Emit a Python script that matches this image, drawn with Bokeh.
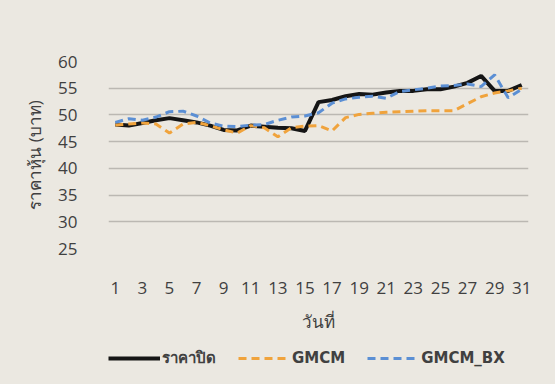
from bokeh.plotting import figure
from bokeh.layouts import column
from bokeh.models import Legend, LegendItem, Range1d, FixedTicker, ColumnDataSource
from bokeh.embed import file_html
from bokeh.resources import INLINE

days = list(range(1, 32))
close_price = [48.2, 48.0, 48.5, 49.0, 49.4, 49.0, 48.6, 48.0, 47.2, 47.1,
               48.0, 47.8, 47.6, 47.5, 47.0, 52.4, 52.8, 53.5, 53.9, 53.8,
               54.2, 54.5, 54.5, 54.8, 54.8, 55.3, 56.0, 57.3, 54.5, 54.5, 55.6]
gmcm = [48.1, 48.3, 48.5, 48.3, 46.6, 48.3, 48.6, 48.0, 47.2, 46.6,
        48.0, 47.6, 45.9, 47.6, 47.9, 48.0, 47.0, 49.5, 50.1, 50.3,
        50.5, 50.6, 50.7, 50.8, 50.8, 50.8, 52.1, 53.4, 54.1, 54.5, 55.0]
gmcm_bx = [48.6, 49.3, 49.0, 49.6, 50.6, 50.7, 49.8, 48.5, 47.9, 47.8,
           48.1, 48.2, 49.0, 49.6, 49.8, 50.4, 52.2, 53.0, 53.3, 53.5,
           53.1, 54.4, 54.7, 55.0, 55.4, 55.5, 55.8, 55.3, 57.5, 53.2, 54.8]
x_ticks = list(range(1, 32, 2))
y_ticks = [25, 30, 35, 40, 45, 50, 55, 60]
series_names = ["ราคาปิด", "GMCM", "GMCM_BX"]
x_title = "วันที่"
y_title = "ราคาหุ้น (บาท)"

colors = ["#151515", "#f0a33c", "#5b8fd4"]
widths = [4, 3, 3]
dashes = ["solid", "8 5", "8 5"]

src = ColumnDataSource(dict(d=days, c=close_price, g=gmcm, b=gmcm_bx))

bg = "#ebe8e1"
txt = "#404040"

p = figure(width=555, height=340, output_backend="svg", toolbar_location=None,
           x_range=Range1d(0.5, 31.5), y_range=Range1d(25, 60),
           background_fill_color=bg, border_fill_color=bg,
           min_border_left=108, min_border_right=27, min_border_top=61,
           min_border_bottom=92, styles={"background-color": bg})
p.outline_line_color = None

p.xgrid.grid_line_color = None
p.ygrid.grid_line_color = "#bbb8b2"
p.ygrid.grid_line_width = 1.5
p.yaxis.ticker = FixedTicker(ticks=y_ticks)
p.xaxis.ticker = FixedTicker(ticks=x_ticks)

for ax in (p.xaxis[0], p.yaxis[0]):
    ax.axis_line_color = None
    ax.major_tick_line_color = None
    ax.minor_tick_line_color = None
    ax.major_label_text_font = "Open Sans"
    ax.major_label_text_font_size = "17px"
    ax.major_label_text_color = txt
    ax.axis_label_text_font = "Open Sans"
    ax.axis_label_text_font_size = "17px"
    ax.axis_label_text_font_style = "normal"
    ax.axis_label_text_color = txt

p.xaxis.major_label_standoff = 27
p.yaxis.major_label_standoff = 25
p.xaxis.axis_label = x_title
p.yaxis.axis_label = y_title
p.xaxis.axis_label_standoff = 13
p.yaxis.axis_label_standoff = 9

cols = ["c", "g", "b"]
for col, c, w, d in zip(cols, colors, widths, dashes):
    p.line("d", col, source=src, line_color=c, line_width=w, line_dash=d)

# legend strip below the chart (series drawn out of view, used only as legend keys)
pl = figure(width=555, height=44, output_backend="svg", toolbar_location=None,
            x_range=Range1d(100, 101), y_range=Range1d(100, 101),
            background_fill_color=bg, border_fill_color=bg,
            min_border_left=108, min_border_right=27, min_border_top=0,
            min_border_bottom=0, styles={"background-color": bg})
pl.outline_line_color = None
pl.axis.visible = False
pl.grid.visible = False
items = []
for name, col, c, w, d in zip(series_names, cols, colors, widths, dashes):
    r = pl.line("d", col, source=src, line_color=c, line_width=w, line_dash=d)
    items.append(LegendItem(label=name, renderers=[r]))

legend = Legend(items=items, orientation="horizontal", location=(0, 14),
                background_fill_alpha=0, border_line_color=None,
                glyph_width=52, glyph_height=14, label_standoff=2, spacing=22,
                label_text_font="DejaVu Sans", label_text_font_style="bold",
                label_text_font_size="15px", label_text_color=txt,
                padding=0, margin=0)
pl.add_layout(legend, "center")

layout = column(p, pl, spacing=0, styles={"background-color": bg})
open("out.html", "w").write(file_html(layout, INLINE))
